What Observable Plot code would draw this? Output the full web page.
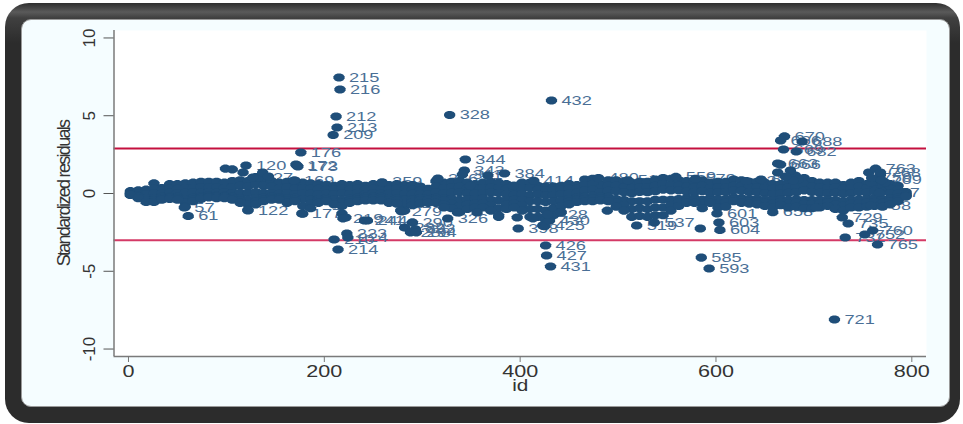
<!DOCTYPE html>
<html>
<head>
<meta charset="utf-8">
<script src="https://cdn.jsdelivr.net/npm/d3@7"></script>
<script src="https://cdn.jsdelivr.net/npm/@observablehq/plot@0.6"></script>
<style>
html,body{margin:0;padding:0;background:#fff;width:963px;height:424px;overflow:hidden}
#outer{position:absolute;left:5px;top:3px;width:955px;height:420px;border-radius:24px;
  background:linear-gradient(#2e2e2e 0,#5a5a5a 9px,#404040 15px,#2c2c2c 40px,#2c2c2c 100%)}
#inner{position:absolute;left:21px;top:19px;width:929px;height:388px;border-radius:10px;background:#f5fdff;box-sizing:border-box;border:1px solid #9a9a9a}
#chart{position:absolute;left:0;top:0}
svg{background:transparent!important;display:block}
</style>
</head>
<body>
<div id="outer"></div><div id="inner"></div><div id="chart"></div>
<script>
const bandIds=[2,10,18,26,34,42,50,58,66,74,
82,90,98,106,114,122,130,138,146,154,
162,170,178,186,194,202,210,218,226,234,
242,250,258,266,274,282,290,298,306,314,
322,330,338,346,354,362,370,378,386,394,
402,410,418,426,434,442,450,458,466,474,
482,490,498,506,514,522,530,538,546,554,
562,570,578,586,594,602,610,618,626,634,
642,650,658,666,674,682,690,698,706,714,
722,730,738,746,754,762,770,778,786,794];
const bandTop=[.15,.2,.25,.65,.35,.6,.6,.65,.7,.75,
.75,.75,.7,.8,.85,.8,1.05,.9,.8,.7,
.75,.6,.7,.65,.6,.55,.5,.6,.55,.6,
.5,.6,.55,.55,.6,.55,.55,.45,.3,.8,
.7,.75,.8,.7,.6,.7,.75,.7,.6,.5,
.7,.7,.5,.45,.45,.5,.6,.55,.9,.95,
.6,.85,.85,.75,.7,.75,.75,.9,1,.95,
.85,.8,.75,.85,.7,.75,.75,.9,.85,.75,
.75,.7,.6,.6,.7,.75,1,.8,.7,.7,
.7,.55,.7,.8,.6,.85,.8,.6,.5,.1];
const bandUpper=[.1,.12,.15,.3,.2,.3,.3,.35,.35,.4,
.4,.4,.35,.4,.5,.45,.6,.5,.45,.35,
.4,.3,.35,.3,.3,.25,.25,.3,.25,.3,
.25,.3,.25,.25,.3,.25,.25,.2,.15,.45,
.35,.4,.45,.35,.3,.35,.4,.35,.3,.25,
.35,.35,.25,.2,.2,.25,.3,.3,.55,.6,
.35,.5,.5,.4,.35,.4,.4,.5,.6,.55,
.5,.45,.4,.5,.35,.4,.4,.5,.5,.4,
.4,.35,.3,.3,.4,.45,.6,.45,.4,.35,
.4,.3,.35,.45,.35,.5,.45,.3,.25,.05];
const bandMid=[.02,-.02,-.05,.02,-.02,.05,.02,.05,.08,.05,
.1,.05,.08,.02,.05,.02,.1,.05,.02,-.02,
.02,-.05,.02,-.02,-.05,-.02,-.05,.02,-.03,.03,
-.03,.02,-.02,-.02,.02,-.04,-.02,-.03,-.05,.08,
.02,.05,.08,0,-.02,.03,.06,.03,-.04,-.08,
-.03,-.1,-.06,-.12,-.1,-.05,0,.05,.2,.25,
.08,.18,.15,.08,.02,.1,.08,.15,.25,.2,
.2,.12,.1,.15,.05,.08,.1,.2,.18,.1,
.08,.02,-.03,-.02,.05,.08,.2,.1,.05,.02,
.05,-.02,.02,.1,.05,.15,.12,.02,-.02,-.05];
const bandLower=[-.05,-.15,-.3,-.3,-.2,-.2,-.22,-.35,-.28,-.2,
-.12,-.15,-.15,-.22,-.3,-.4,-.3,-.28,-.22,-.25,
-.32,-.28,-.35,-.4,-.35,-.3,-.38,-.4,-.34,-.28,
-.22,-.2,-.22,-.3,-.32,-.4,-.38,-.3,-.3,-.28,
-.32,-.35,-.4,-.38,-.35,-.33,-.4,-.45,-.42,-.4,
-.42,-.5,-.5,-.55,-.5,-.45,-.35,-.25,-.2,-.15,
-.2,-.22,-.35,-.42,-.5,-.5,-.5,-.4,-.4,-.4,
-.35,-.3,-.3,-.4,-.3,-.38,-.35,-.25,-.3,-.35,
-.35,-.4,-.42,-.38,-.4,-.38,-.42,-.42,-.4,-.38,
-.42,-.48,-.4,-.38,-.36,-.3,-.35,-.32,-.25,-.12];
const bandDeep=[-.08,-.22,-.42,-.42,-.3,-.28,-.32,-.6,-.4,-.28,
-.2,-.22,-.22,-.3,-.45,-.7,-.5,-.4,-.32,-.32,
-.45,-.4,-.8,-.65,-.48,-.4,-.55,-.6,-.47,-.4,
-.32,-.3,-.32,-.42,-.45,-.75,-.55,-.42,-.4,-.4,
-.45,-.65,-.8,-.7,-.65,-.62,-.75,-.95,-.7,-.65,
-.75,-1,-1,-1.1,-.95,-.8,-.52,-.4,-.35,-.33,
-.32,-.35,-.6,-.75,-1,-.95,-1,-.9,-.9,-.75,
-.58,-.45,-.45,-.65,-.45,-.62,-.6,-.38,-.45,-.5,
-.52,-.6,-.65,-.55,-.65,-.6,-.68,-.68,-.65,-.58,
-.7,-.78,-.65,-.62,-.6,-.55,-.6,-.5,-.38,-.16];
const bandBottom=[-.1,-.3,-.55,-.55,-.4,-.35,-.4,-.85,-.5,-.35,
-.25,-.3,-.3,-.4,-.6,-1.05,-.7,-.5,-.4,-.4,
-.6,-.5,-1.3,-.95,-.6,-.5,-.7,-.8,-.6,-.5,
-.45,-.45,-.45,-.6,-.65,-1.1,-.75,-.65,-.6,-.6,
-.7,-.95,-1.2,-1,-.9,-.9,-1.1,-1.5,-1,-.9,
-1.1,-1.5,-1.5,-1.7,-1.4,-1.2,-.7,-.55,-.5,-.5,
-.45,-.5,-.85,-1.1,-1.5,-1.45,-1.5,-1.4,-1.4,-1.1,
-.8,-.6,-.6,-.95,-.6,-.9,-.85,-.5,-.6,-.65,
-.7,-.8,-.9,-.75,-.9,-.85,-.95,-.95,-.9,-.8,
-1,-1.1,-.9,-.9,-.85,-.8,-.85,-.7,-.5,-.2];

const extraIds=[99,106,117,132,137,143,170,171,367,393,218,222,278,322,336,356,378,397,413,423,429,489,584,702,681,676,684,679,671,663,756,766,758,773,768];
const extraValues=[1.6,1.55,1.35,1.03,1.35,1.09,.84,1.86,1.16,.5,-1.29,-1.54,-1.09,-.9,-1.22,-1.22,-1.41,-1.54,-1.6,-2.06,-1.75,-1.1,-2.25,-.9,1.16,1.48,.9,.83,1.09,1.35,1.35,.96,.7,.7,1.2];

const labelIds=[215,216,212,213,209,328,432,176,172,173,120,169,344,343,341,384,414,61,57,122,177,279,326,223,224,210,214,219,244,241,290,282,288,293,294,398,426,427,431,425,430,428,537,519,601,603,604,585,593,658,729,735,732,752,760,765,721,670,666,688,669,682,663,666,763,768,759,769,767,758,316,259,349,480,510,559,579,631,646,127];
const labelValues=[7.46,6.69,4.95,4.24,3.76,5.05,5.98,2.64,1.8,1.74,1.8,.84,2.19,1.48,1.22,1.29,.82,-1.45,-.9,-1.09,-1.29,-1.16,-1.61,-2.57,-2.83,-2.96,-3.6,-1.6,-1.74,-1.74,-1.86,-2.19,-2.5,-2.3,-2.5,-2.25,-3.34,-3.99,-4.69,-2.1,-1.74,-1.35,-1.87,-2.06,-1.29,-1.87,-2.35,-4.12,-4.82,-1.2,-1.54,-1.93,-2.83,-2.64,-2.38,-3.28,-8.1,3.67,3.41,3.34,2.83,2.7,1.93,1.86,1.6,1.35,1,.85,.05,-.77,.96,.72,.5,1,.85,1.07,.95,.8,.9,1.03];

const xTicks=[0,200,400,600,800];
const yTicks=[-10,-5,0,5,10];
const upperRef=[2.9];
const lowerRef=[-3];

const band=[bandTop,bandUpper,bandMid,bandLower,bandDeep,bandBottom]
  .flatMap(row=>bandIds.map((id,i)=>({id,value:row[i]})));
const extras=extraIds.map((id,i)=>({id,value:extraValues[i]}));
const labelled=labelIds.map((id,i)=>({id,value:labelValues[i],label:String(id)}));
const oval={draw(c,size){
  const r=Math.sqrt(size/Math.PI),a=r*1.38;
  for(let i=0;i<12;i++){
    const t=(i+.5)*Math.PI/6,px=a*Math.cos(t),py=r*Math.sin(t);
    if(i===0)c.moveTo(px,py);else c.lineTo(px,py);
  }
  c.closePath();
}};
const dotColor="#1f4e79";
const xDom=[-14.8,815],yDom=[-10.48,10.48];
const chart=Plot.plot({
  width:963,height:424,
  marginLeft:113.5,marginRight:37,marginTop:30,marginBottom:68,
  style:{background:"transparent",fontFamily:"'Liberation Sans',Arial,sans-serif"},
  x:{domain:xDom},y:{domain:yDom},
  marks:[
    Plot.frame({fill:"white",stroke:null}),
    Plot.ruleY(upperRef,{stroke:"#c4103f",strokeWidth:2}),
    Plot.ruleY(lowerRef,{stroke:"#d43a66",strokeWidth:2}),
    Plot.text(labelled,{x:"id",y:"value",text:"label",dx:10,textAnchor:"start",fontSize:13,fill:"#4a6f96",lineAnchor:"middle"}),
    Plot.dot(band,{x:"id",y:"value",r:4.2,symbol:oval,fill:dotColor,stroke:null}),
    Plot.dot(extras,{x:"id",y:"value",r:4.2,symbol:oval,fill:dotColor,stroke:null}),
    Plot.dot(labelled,{x:"id",y:"value",r:4.2,symbol:oval,fill:dotColor,stroke:null}),
    Plot.ruleX([xDom[0]],{stroke:"#7a7a7a",strokeWidth:1.5}),
    Plot.ruleY([yDom[0]],{stroke:"#7a7a7a",strokeWidth:1.5}),
    Plot.axisX({ticks:xTicks,tickSize:6,tickPadding:3,fontSize:16,color:"#333",stroke:"#777",label:"id",labelAnchor:"center",labelArrow:"none",labelOffset:34,tickFormat:d=>String(d)}),
    Plot.axisY({ticks:yTicks,tickSize:10,tickPadding:9,fontSize:17,tickRotate:-90,color:"#333",stroke:"#555",label:"Standardized residuals",labelAnchor:"center",labelArrow:"none",labelOffset:57,tickFormat:d=>String(d)})
  ]
});
document.getElementById("chart").appendChild(chart);
const stretch=(sel,k)=>d3.select(chart).selectAll(sel).each(function(){
  const t=this.getAttribute("transform")||"";
  this.setAttribute("transform",`${t} scale(${k},1)`);
});
stretch('g[aria-label="text"] text',1.4);
stretch('g[aria-label="x-axis tick label"] text',1.35);
stretch('g[aria-label="x-axis label"] text',1.3);
d3.select(chart).selectAll('g[aria-label="y-axis label"] text').style("font-size","18px").style("letter-spacing","-1.7px");
</script>
</body>
</html>
